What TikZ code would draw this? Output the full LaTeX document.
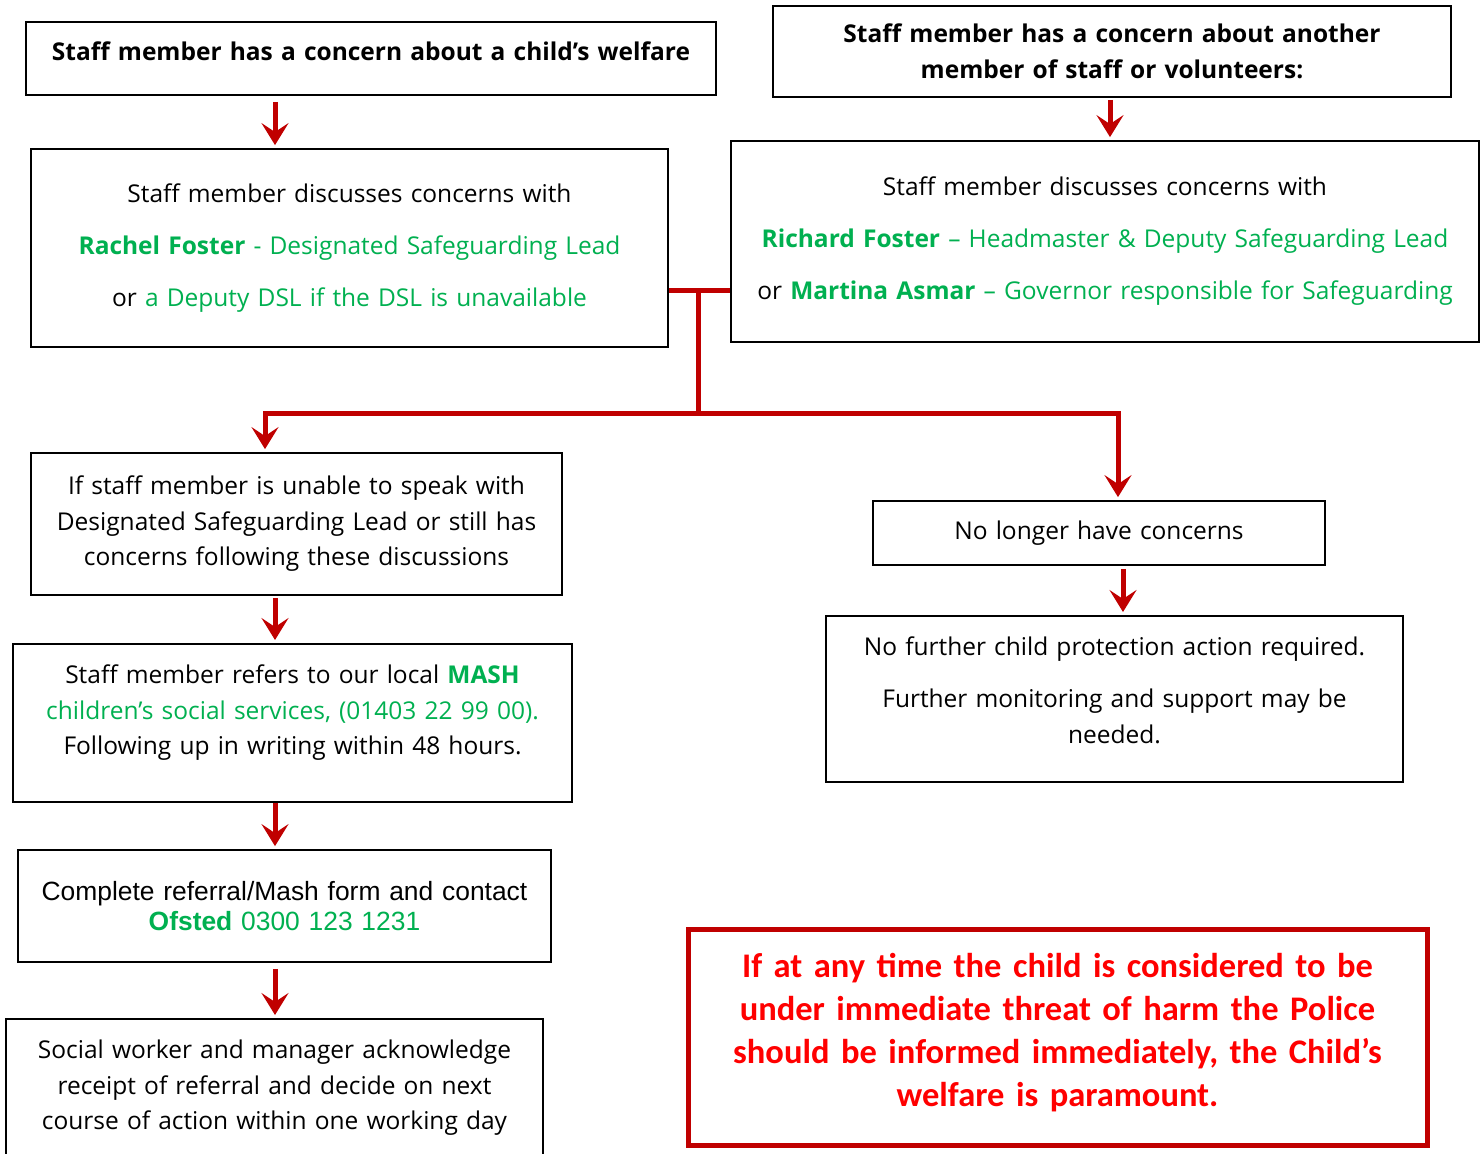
\documentclass[tikz,border=0pt]{standalone}
\usepackage{fontspec}
\setmainfont{Open Sans}
\newfontfamily\arialfont{Liberation Sans}
\newfontfamily\alertfont{Carlito}
\usetikzlibrary{arrows.meta}
\definecolor{darkred}{HTML}{C00000}
\definecolor{dslgreen}{HTML}{00B050}
\definecolor{alertred}{HTML}{FF0000}
\newcommand{\grn}[1]{\textcolor{dslgreen}{#1}}
\newcommand{\grnb}[1]{\textcolor{dslgreen}{\bfseries #1}}

\begin{document}
\begin{tikzpicture}[x=1pt,y=-1pt,
  box/.style={draw, line width=1.8pt, align=center, inner sep=0pt},
  body/.style={font=\fontsize{24.5}{35.5}\selectfont},
  head/.style={font=\bfseries\fontsize{24.5}{36}\selectfont},
  flow/.style={draw=darkred, line width=5pt, -{Stealth[length=22pt,width=27pt,inset=9pt]}, shorten >=3pt},
  branch/.style={draw=darkred, line width=5pt}]
\useasboundingbox[fill=white] (0,0) rectangle (1481,1154);

% top row
\node[box, head, anchor=north, text height=39, text depth=34, text width=680, minimum width=690] (concern) at (371,21)
  {Staff member has a concern about a child’s welfare};
\node[box, head, minimum width=678, minimum height=91, text width=668] (staffconcern) at (1112,51.5)
  {Staff member has a concern about another\\ member of staff or volunteers:};

% discussion boxes
\node[box, font=\fontsize{24.5}{52}\selectfont, minimum width=637, minimum height=198, text width=627] (talk) at (349.5,248)
  {Staff member discusses concerns with\\
   \grnb{Rachel Foster} \grn{- Designated Safeguarding Lead}\\
   or \grn{a Deputy DSL if the DSL is unavailable}};
\node[box, font=\fontsize{24.5}{52}\selectfont, minimum width=748, minimum height=201, text width=744] (discuss) at (1105,241.5)
  {Staff member discusses concerns with\\
   \grnb{Richard Foster} \grn{– Headmaster \& Deputy Safeguarding Lead}\\
   or \grnb{Martina Asmar} \grn{– Governor responsible for Safeguarding}};

% left branch
\node[box, body, minimum width=531, minimum height=142, text width=521] (escalate) at (296.5,524)
  {If staff member is unable to speak with\\ Designated Safeguarding Lead or still has\\ concerns following these discussions};
\node[box, body, anchor=north, text height=40, text depth=118, text width=549, minimum width=559] (mash) at (292.5,643)
  {Staff member refers to our local \grnb{MASH}\\
   \grn{children’s social services, (01403 22 99 00).}\\
   Following up in writing within 48 hours.};
\node[box, font=\arialfont\fontsize{26.4}{30}\selectfont, minimum width=533, minimum height=112, text width=523] (referral) at (284.5,906)
  {Complete referral/Mash form and contact\\ \grnb{Ofsted} \grn{0300 123 1231}};
\node[box, body, anchor=north, text height=40, text depth=150, text width=527, minimum width=537] (social) at (274.5,1018)
  {Social worker and manager acknowledge\\ receipt of referral and decide on next\\ course of action within one working day};

% right branch
\node[box, body, minimum width=452, minimum height=64, text width=442] (resolved) at (1099,533)
  {No longer have concerns};
\node[box, body, anchor=north, text height=40, text depth=126, text width=567, minimum width=577] (nofurther) at (1114.5,615)
  {No further child protection action required.\\[16.5pt]
   Further monitoring and support may be\\ needed.};

% warning
\node[box, draw=darkred, line width=5pt, text=alertred, font=\alertfont\bfseries\fontsize{34.5}{43}\selectfont,
  anchor=north, text height=48, text depth=168, text width=720, minimum width=739] (police) at (1057.5,927)
  {If at any time the child is considered to be\\ under immediate threat of harm the Police\\
   should be informed immediately, the Child’s\\ welfare is paramount.};

% connectors
\coordinate (leftcol) at (275,0);
\coordinate (rightcol) at (1110,0);
\coordinate (nocol) at (1123,0);
\coordinate (split) at (698,290);
\coordinate (fork) at (698,413);

\draw[flow] (leftcol |- concern.south) ++(0,6) -- (leftcol |- talk.north);
\draw[flow] (rightcol |- staffconcern.south) ++(0,2) -- (rightcol |- discuss.north);
\draw[branch] (talk.east |- split) -- (discuss.west |- split);
\draw[branch] (split) -- (fork);
\draw[flow] (fork) -| ([xshift=-31.5pt]escalate.north);
\draw[flow] (fork) -| ([xshift=19pt]resolved.north);
\draw[flow] (nocol |- resolved.south) ++(0,3) -- (nocol |- nofurther.north);
\draw[flow] (leftcol |- escalate.south) ++(0,2) -- (leftcol |- mash.north);
\draw[flow] (leftcol |- mash.south) -- (leftcol |- referral.north);
\draw[flow] (leftcol |- referral.south) ++(0,6) -- (leftcol |- social.north);
\end{tikzpicture}
\end{document}
